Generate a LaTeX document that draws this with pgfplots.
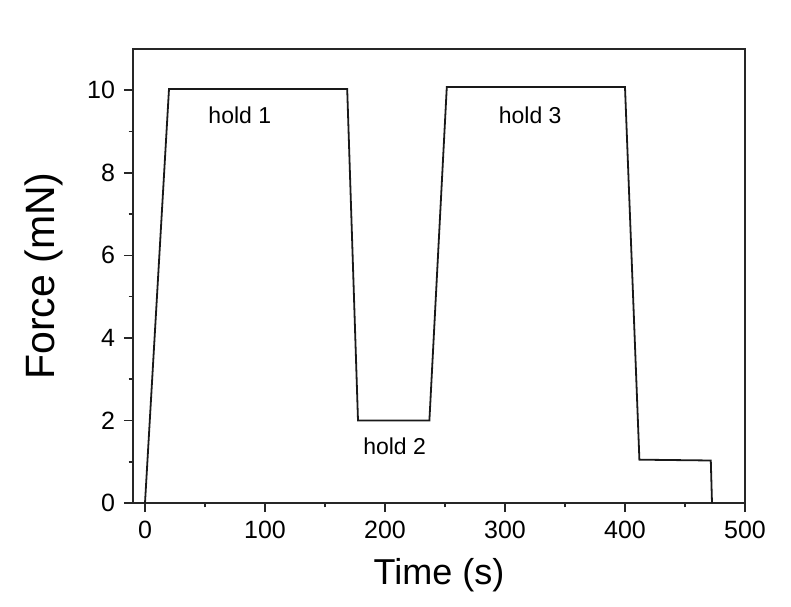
\documentclass[border=0pt]{standalone}
\usepackage{pgfplots}
\pgfplotsset{compat=1.18}
\usepackage{fontspec}
\setmainfont{Liberation Sans}
\begin{document}
\begin{tikzpicture}
\begin{axis}[
  scale only axis,
  width=306pt, height=227pt,
  xmin=-10, xmax=500, ymin=0, ymax=11,
  axis line style={line width=1pt, black!85},
  xtick={0,100,200,300,400,500},
  ytick={0,2,4,6,8,10},
  minor x tick num=1, minor y tick num=1,
  tick pos=left, tick align=outside,
  major tick length=4.5pt, minor tick length=2.2pt,
  every tick/.style={line width=0.8pt, black!85},
  /pgf/number format/assume math mode=true,
  ticklabel style={font=\fontsize{12.5}{14}\selectfont},
  xticklabel style={yshift=-1pt},
  yticklabel style={xshift=-1pt},
  xlabel={Time (s)}, ylabel={Force (mN)},
  xlabel style={font=\fontsize{18}{20}\selectfont, yshift=-3pt},
  ylabel style={font=\fontsize{20.5}{22}\selectfont, yshift=5pt},
  clip=false,
]
\addplot[black!90, line width=0.9pt] coordinates {
 (0,0) (20,10.03) (168.5,10.03) (177.5,2) (237,2) (251.5,10.08) (400,10.08) (412,1.05) (471.5,1.03) (472.5,0)
};
\node[font=\fontsize{11.5}{13}\selectfont] at (axis cs:79,9.4) {hold 1};
\node[font=\fontsize{11.5}{13}\selectfont] at (axis cs:208,1.37) {hold 2};
\node[font=\fontsize{11.5}{13}\selectfont] at (axis cs:321,9.4) {hold 3};
\path (rel axis cs:0,0) ++(-66.5pt,-51.5pt);
\path (rel axis cs:1,1) ++(23pt,24.5pt);
\end{axis}
\end{tikzpicture}
\end{document}
